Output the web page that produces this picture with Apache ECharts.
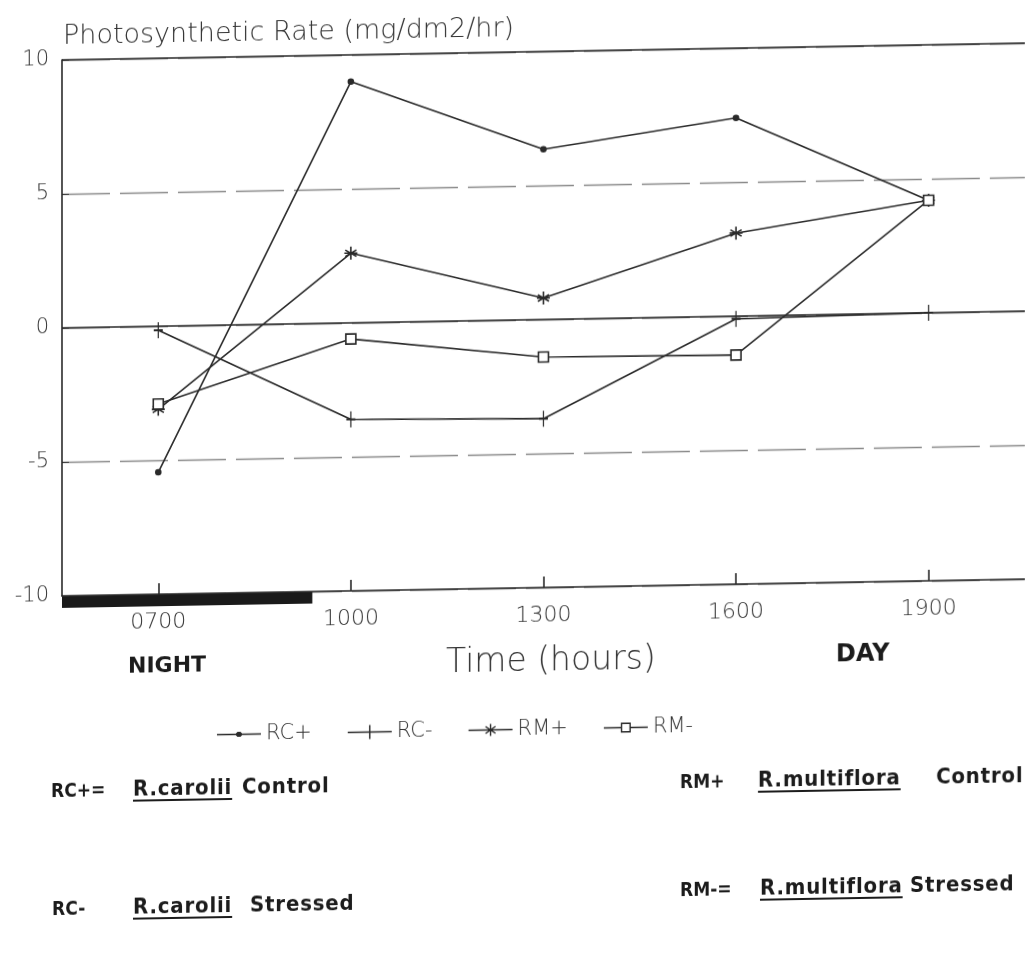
<!DOCTYPE html>
<html>
<head>
<meta charset="utf-8">
<script src="https://cdn.jsdelivr.net/npm/echarts@6/dist/echarts.min.js"></script>
<style>
  html, body { margin: 0; padding: 0; background: #fff; }
  /* the scanned page is slightly sheared, lines climb to the right */
  #page { position: relative; width: 1025px; height: 955px; transform: skewY(-1deg); transform-origin: 0 0; }
  #chart { position: absolute; left: 0; top: 0; width: 1025px; height: 955px; }
  .key { position: absolute; font-family: "DejaVu Sans Condensed", "DejaVu Sans", sans-serif; font-weight: bold;
         font-size: 22px; color: #1c1c1c; white-space: pre; letter-spacing: 0.8px; }
  .key.tag { font-size: 19px; letter-spacing: 0; margin-top: 2px; }
  .key u { text-decoration-thickness: 2px; text-underline-offset: 4px; }
</style>
</head>
<body>
<div id="page">
  <div id="chart"></div>
  <div class="key tag" style="left:51px; top:778px;">RC+=</div>
  <div class="key" style="left:133px; top:778px;"><u>R.carolii</u></div>
  <div class="key" style="left:242px; top:778px;">Control</div>
  <div class="key tag" style="left:680px; top:780px;">RM+</div>
  <div class="key" style="left:758px; top:780px;"><u>R.multiflora</u></div>
  <div class="key" style="left:936px; top:780px;">Control</div>
  <div class="key tag" style="left:52px; top:896px;">RC-</div>
  <div class="key" style="left:133px; top:896px;"><u>R.carolii</u></div>
  <div class="key" style="left:250px; top:896px;">Stressed</div>
  <div class="key tag" style="left:680px; top:888px;">RM-=</div>
  <div class="key" style="left:760px; top:888px;"><u>R.multiflora</u></div>
  <div class="key" style="left:910px; top:888px;">Stressed</div>
</div>
<script>
// 采样时间
var hours = ['0700', '1000', '1300', '1600', '1900'];
// photosynthetic rate, mg/dm2/hr
var rcPlus = [-5.45, 9.0, 6.35, 7.4, 4.2];
var rcMinus = [-0.15, -3.6, -3.7, -0.1, 0.0];
var rmPlus = [-3.1, 2.6, 0.8, 3.1, 4.2];
var rmMinus = [-2.9, -0.6, -1.4, -1.45, 4.2];
var yTicks = [-10, -5, 0, 5, 10];
var nightEnd = 0.8; // night bar ends this far past 0700 (fraction of one step)

var ink = '#2a2a2a';
var thin = '"DejaVu Sans", "Liberation Sans", sans-serif';

var plusPath = 'path://M5 0L5 16M0 8L10 8';
var starPath = 'path://M5 0L5 10M0.7 2.5L9.3 7.5M0.7 7.5L9.3 2.5M0 5L10 5';

// legend icons drawn in a 44x14 box (corner moveTo keeps the box size)
var box = 'M0 0M44 14';
var lineBar = 'M0 6.3H44V7.7H0Z';
var legendIcons = {
	'RC+': 'path://' + box + lineBar + 'M20.5 4.5H23.5L25 6V8L23.5 9.5H20.5L19 8V6Z',
	'RC-': 'path://' + box + lineBar + 'M21.3 0H22.7V14H21.3Z',
	'RM+': 'path://' + box + lineBar + 'M21.3 1H22.7V13H21.3Z' +
		'M16.6 4.1L17.4 2.9L27.4 9.9L26.6 11.1Z M16.6 9.9L26.6 2.9L27.4 4.1L17.4 11.1Z',
	'RM-': 'path://' + box + 'M0 6.3H17V7.7H0Z M27 6.3H44V7.7H27Z M17 2H27V12H17Z M18.4 3.4V10.6H25.6V3.4Z'
};

function lineSeries(name, data, symbol, size, fill) {
	return {
		name: name,
		type: 'line',
		data: data,
		symbol: symbol,
		symbolSize: size,
		showAllSymbol: true,
		animation: false,
		lineStyle: { color: ink, width: 1.6 },
		itemStyle: { color: fill, borderColor: ink, borderWidth: 1.6 },
		emphasis: { disabled: true }
	};
}

var chart = echarts.init(document.getElementById('chart'));

var series = [
	lineSeries('RC+', rcPlus, 'circle', 5, ink),
	lineSeries('RC-', rcMinus, plusPath, [9, 16], ink),
	lineSeries('RM+', rmPlus, starPath, 13, ink),
	lineSeries('RM-', rmMinus, 'rect', 10, '#fff')
];
// 0 line and top border, solid
series[0].markLine = {
	silent: true,
	symbol: 'none',
	label: { show: false },
	lineStyle: { color: ink, type: 'solid', width: 1.6 },
	data: [{ yAxis: 0 }, { yAxis: 10 }],
	animation: false
};

var legendData = ['RC+', 'RC-', 'RM+', 'RM-'].map(function(n) {
	return { name: n, icon: legendIcons[n], itemStyle: { color: ink, borderWidth: 0 } };
});

chart.setOption({
	backgroundColor: '#fff',
	title: {
		text: 'Photosynthetic Rate (mg/dm2/hr)',
		left: 58,
		top: 19,
		textStyle: { fontFamily: thin, fontWeight: 200, fontSize: 27, color: '#333' }
	},
	grid: { left: 62, right: 0, top: 61, bottom: 358 },
	legend: {
		left: 212,
		top: 723,
		itemWidth: 44,
		itemHeight: 14,
		itemGap: 36,
		data: legendData,
		textStyle: { fontFamily: thin, fontWeight: 200, fontSize: 21, color: '#333' }
	},
	xAxis: {
		type: 'category',
		data: hours,
		boundaryGap: true,
		axisLine: { onZero: false, lineStyle: { color: ink, width: 1.6 } },
		axisTick: { show: true, inside: true, alignWithLabel: true, length: 11, lineStyle: { color: ink, width: 1.6 } },
		axisLabel: { margin: 17, fontFamily: thin, fontWeight: 200, fontSize: 22, color: '#333' },
		splitLine: { show: false }
	},
	yAxis: {
		type: 'value',
		min: yTicks[0],
		max: yTicks[yTicks.length - 1],
		interval: 5,
		axisLine: { show: true, lineStyle: { color: ink, width: 1.6 } },
		axisTick: { show: true, inside: true, length: 7, lineStyle: { color: ink } },
		axisLabel: { margin: 13, fontFamily: thin, fontWeight: 200, fontSize: 21, color: '#333' },
		splitLine: { show: true, lineStyle: { color: '#8a8a8a', type: [48, 10], width: 1.3 } }
	},
	series: series
});

// night bar under the axis plus the NIGHT / DAY / axis name texts
var p0 = chart.convertToPixel({ xAxisIndex: 0 }, hours[0]);
var p1 = chart.convertToPixel({ xAxisIndex: 0 }, hours[1]);
var step = p1 - p0;
var yBase = chart.convertToPixel({ yAxisIndex: 0 }, yTicks[0]);
chart.setOption({
	graphic: [
		{
			type: 'rect',
			shape: { x: p0 - step / 2, y: yBase, width: step / 2 + nightEnd * step, height: 12 },
			style: { fill: '#1a1a1a' },
			silent: true
		},
		{
			type: 'text', left: 128, top: 658,
			style: { text: 'NIGHT', font: 'bold 22px "DejaVu Sans", sans-serif', fill: '#1c1c1c' }
		},
		{
			type: 'text', left: 836, top: 658,
			style: { text: 'DAY', font: 'bold 24px "DejaVu Sans", sans-serif', fill: '#1c1c1c' }
		},
		{
			type: 'text', left: 446, top: 655,
			style: { text: 'Time (hours)', font: '200 33px "DejaVu Sans", sans-serif', fill: '#333' }
		}
	]
});
</script>
</body>
</html>
